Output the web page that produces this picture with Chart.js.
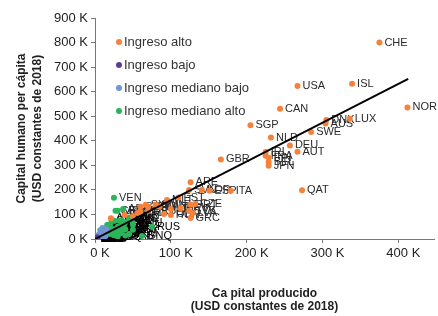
<!doctype html>
<html>
<head>
    <title>Capital humano vs capital producido</title>
    <script src="https://cdn.jsdelivr.net/npm/chart.js"></script>
    <style>
        html, body { margin: 0; padding: 0; background: #fff; }
        #wrap { width: 438px; height: 316px; }
    </style>
</head>
<body>
<div id="wrap"><canvas id="grafico"></canvas></div>
<script>
    // valores en miles de USD constantes de 2018: [pais, capital producido, capital humano per capita]
    var ingresoAlto = [
        ['CHE', 375, 800], ['ISL', 339, 632], ['USA', 267, 623], ['NOR', 412, 536], ['CAN', 244, 530],
        ['SGP', 205, 463], ['DNK', 305, 485], ['LUX', 336, 490], ['AUS', 304, 470], ['SWE', 285, 436],
        ['NLD', 232, 413], ['DEU', 257, 381], ['AUT', 267, 355], ['IRL', 225, 354], ['FRA', 225, 339],
        ['FIN', 229, 331], ['BEL', 229, 314], ['JPN', 229, 298], ['GBR', 166, 324], ['QAT', 273, 199],
        ['ITA', 179, 196], ['ARE', 126, 231], ['KOR', 141, 200], ['ESP', 151, 196], ['SVN', 124, 200],
        ['MLT', 95, 159], ['EST', 110, 169], ['PRT', 126, 139], ['CZE', 132, 143], ['SVK', 124, 114],
        ['LVA', 129, 106], ['GRC', 126, 86], ['HRV', 113, 125], ['HUN', 100, 98], ['POL', 91, 102],
        ['LTU', 100, 122], ['CHL', 60, 110], ['URY', 70, 114], ['SAU', 70, 131], ['OMN', 80, 139],
        ['KWT', 85, 131], ['BHR', 60, 131], ['PAN', 50, 94], ['TTO', 56, 106], ['BRB', 39, 98],
        ['ATG', 21, 84], ['SYC', 67, 139]
    ];
    var ingresoBajo = [
        ['ETH', 2, 3], ['UGA', 1.5, 4], ['MOZ', 2, 2], ['MWI', 1, 2], ['NER', 1, 1], ['MLI', 2, 3],
        ['BFA', 1.5, 3], ['TCD', 2, 1], ['COD', 1, 2], ['MDG', 1, 3], ['RWA', 2, 5], ['AFG', 3, 2],
        ['HTI', 2, 4], ['SLE', 1, 3], ['LBR', 1, 2], ['GIN', 2, 2], ['TGO', 1.5, 4], ['BEN', 2, 5],
        ['BDI', 0.5, 2], ['CAF', 1, 1], ['YEM', 3, 3], ['NPL', 3, 6], ['GMB', 1.5, 3]
    ];
    var ingresoMedianoBajo = [
        ['IND', 6, 18], ['BGD', 4, 12], ['PAK', 4, 10], ['NGA', 6, 15], ['EGY', 12, 30], ['PHL', 8, 28],
        ['VNM', 10, 22], ['IDN', 15, 40], ['UKR', 10, 45], ['KEN', 3, 8], ['GHA', 5, 12], ['MAR', 12, 25],
        ['TUN', 14, 35], ['BOL', 8, 20], ['LKA', 14, 30], ['MNG', 12, 25], ['KGZ', 4, 15], ['UZB', 6, 12],
        ['SLV', 8, 30], ['HND', 6, 18], ['NIC', 5, 14], ['ZMB', 4, 8], ['CMR', 4, 9], ['CIV', 4, 10],
        ['SEN', 4, 9], ['LAO', 6, 8], ['KHM', 3, 6], ['MMR', 5, 7], ['TZA', 2, 5], ['MDA', 8, 35],
        ['TJK', 3, 12], ['PNG', 5, 6], ['MRT', 6, 5], ['COG', 8, 10], ['AGO', 12, 10], ['LSO', 3, 10],
        ['ZWE', 3, 7], ['SWZ', 9, 20], ['CPV', 10, 22], ['BTN', 14, 12]
    ];
    var ingresoMedianoAlto = [
        ['VEN', 25, 168], ['CRI', 27, 115], ['MEX', 30, 115], ['ARG', 37, 122], ['BRA', 22, 74],
        ['COL', 26, 74], ['PER', 32, 74], ['ECU', 16, 57], ['MYS', 45, 80], ['TUR', 40, 68],
        ['KAZ', 50, 58], ['RUS', 75, 50], ['CHN', 40, 40], ['THA', 30, 42], ['ZAF', 20, 30],
        ['BGR', 38, 55], ['ROU', 50, 65], ['SRB', 35, 45], ['MKD', 25, 40], ['BIH', 22, 36],
        ['ALB', 18, 34], ['MNE', 35, 60], ['BLR', 30, 50], ['AZE', 28, 28], ['ARM', 15, 30],
        ['GEO', 14, 27], ['JAM', 20, 45], ['PRY', 18, 44], ['GTM', 7, 36], ['IRN', 35, 24],
        ['IRQ', 30, 10], ['LBN', 45, 88], ['BWA', 25, 15], ['NAM', 20, 20], ['GAB', 40, 14],
        ['MUS', 35, 76], ['LBY', 50, 38], ['DZA', 30, 20], ['JOR', 20, 40], ['DOM', 20, 60],
        ['TKM', 45, 20], ['GNQ', 62, 12]
    ];
    // recta de tendencia
    var tendencia = [[0, 0], [413, 652]];

    var ticksX = [0, 100, 200, 300, 400];

    function puntos(lista) {
        return lista.map(function (p) { return { x: p[1], y: p[2], pais: p[0] }; });
    }

    var fuente = "'Liberation Sans', Arial, sans-serif";

    // etiquetas de pais, debajo de los puntos
    var etiquetas = {
        id: 'etiquetas',
        beforeDatasetsDraw: function (chart) {
            var ctx = chart.ctx;
            ctx.save();
            ctx.font = '11px ' + fuente;
            ctx.textBaseline = 'middle';
            ctx.textAlign = 'left';
            chart.data.datasets.forEach(function (ds, i) {
                if (!ds.conEtiquetas) return;
                var meta = chart.getDatasetMeta(i);
                meta.data.forEach(function (el, j) {
                    ctx.fillStyle = ds.data[j].x < 90 && ds.data[j].y < 90 ? '#000' : '#2a2a2a';
                    ctx.fillText(ds.data[j].pais, el.x + 5, el.y);
                });
            });
            ctx.restore();
        }
    };

    // leyenda dentro del area del grafico
    var leyenda = {
        id: 'leyenda',
        afterDraw: function (chart) {
            var ctx = chart.ctx;
            var x0 = chart.chartArea.left + 24;
            var y0 = chart.chartArea.top + 24;
            ctx.save();
            ctx.font = '13px ' + fuente;
            ctx.textBaseline = 'middle';
            var fila = 0;
            chart.data.datasets.forEach(function (ds) {
                if (!ds.conEtiquetas) return;
                var y = y0 + fila * 23;
                ctx.fillStyle = ds.backgroundColor;
                ctx.beginPath();
                ctx.arc(x0, y, 3, 0, Math.PI * 2);
                ctx.fill();
                ctx.fillStyle = '#333';
                ctx.fillText(ds.label, x0 + 5, y);
                fila++;
            });
            ctx.restore();
        }
    };

    new Chart(document.getElementById('grafico').getContext('2d'), {
        type: 'scatter',
        data: {
            datasets: [{
                label: 'Tendencia',
                data: tendencia.map(function (p) { return { x: p[0], y: p[1] }; }),
                showLine: true,
                borderColor: '#000',
                borderWidth: 2,
                pointRadius: 0
            }, {
                label: 'Ingreso alto',
                data: puntos(ingresoAlto),
                backgroundColor: '#F5813A',
                conEtiquetas: true
            }, {
                label: 'Ingreso bajo',
                data: puntos(ingresoBajo),
                backgroundColor: '#5E3A98',
                conEtiquetas: true
            }, {
                label: 'Ingreso mediano bajo',
                data: puntos(ingresoMedianoBajo),
                backgroundColor: '#6F95D2',
                conEtiquetas: true
            }, {
                label: 'Ingreso mediano alto',
                data: puntos(ingresoMedianoAlto),
                backgroundColor: '#2DB45A',
                conEtiquetas: true
            }]
        },
        options: {
            responsive: true,
            maintainAspectRatio: false,
            animation: false,
            layout: { padding: { top: 18, right: 0, left: 0, bottom: 0 } },
            elements: { point: { radius: 3, borderWidth: 0 } },
            plugins: { legend: { display: false }, tooltip: { enabled: false } },
            scales: {
                x: {
                    type: 'linear',
                    min: 0,
                    max: 447,
                    afterBuildTicks: function (scale) {
                        scale.ticks = ticksX.map(function (v) { return { value: v }; });
                    },
                    afterFit: function (scale) { scale.height = 77; },
                    grid: { drawOnChartArea: false, drawTicks: true, tickLength: 4, color: '#777' },
                    border: { display: true, color: '#777', width: 1 },
                    ticks: {
                        color: '#222',
                        padding: 3,
                        labelOffset: 5,
                        font: { family: fuente, size: 13 },
                        callback: function (v) { return v + ' K'; }
                    },
                    title: {
                        display: true,
                        text: ['Ca pital producido', '(USD constantes de 2018)'],
                        color: '#222',
                        font: { family: fuente, size: 12, weight: 'bold', lineHeight: 1.15 },
                        padding: { top: 0, bottom: 2 }
                    }
                },
                y: {
                    min: 0,
                    max: 900,
                    afterFit: function (scale) { scale.width = 95; },
                    grid: { drawOnChartArea: false, drawTicks: true, tickLength: 4, color: '#777' },
                    border: { display: true, color: '#777', width: 1 },
                    ticks: {
                        stepSize: 100,
                        color: '#222',
                        padding: 3,
                        font: { family: fuente, size: 13 },
                        callback: function (v) { return v + ' K'; }
                    },
                    title: {
                        display: true,
                        text: ['Capital humano per cápita', '(USD constantes de 2018)'],
                        color: '#222',
                        font: { family: fuente, size: 12, weight: 'bold', lineHeight: 1.3 },
                        padding: { top: 14, bottom: 0 }
                    }
                }
            }
        },
        plugins: [etiquetas, leyenda]
    });
</script>
</body>
</html>
